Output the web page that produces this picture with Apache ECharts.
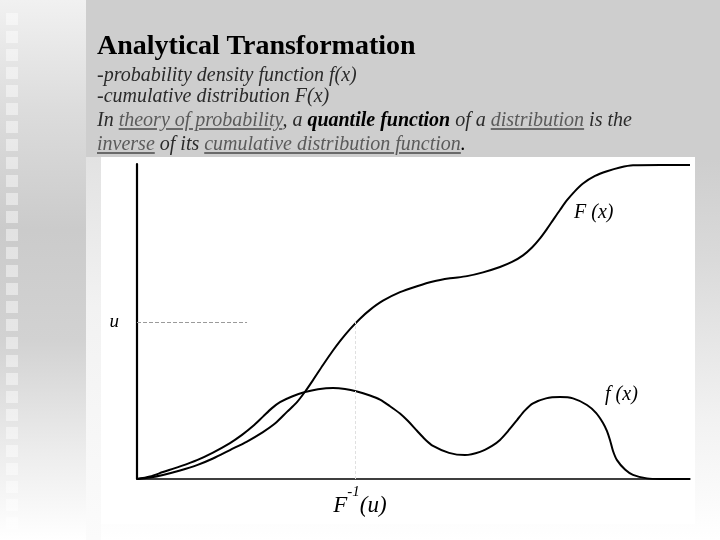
<!DOCTYPE html>
<html>
<head>
<meta charset="utf-8">
<script src="https://cdn.jsdelivr.net/npm/echarts@6/dist/echarts.min.js"></script>
<style>
  html, body { margin:0; padding:0; width:720px; height:540px; overflow:hidden; }
  body {
    position:relative;
    background: linear-gradient(to bottom, #cecece 0px, #cecece 160px, #dadada 260px, #f2f2f2 420px, #ffffff 540px);
    font-family: "Liberation Serif", "Times New Roman", serif;
  }
  #leftcol {
    position:absolute; left:0; top:0; width:86px; height:540px;
    background: linear-gradient(to bottom, #f1f1f1 0px, #dcdcdc 110px, #cbcbcb 230px, #d2d2d2 340px, #ececec 450px, #ffffff 540px);
  }
  #squares {
    position:absolute; left:6px; top:13px; width:12px; height:527px;
    background: repeating-linear-gradient(to bottom, rgba(255,255,255,0.45) 0px, rgba(255,255,255,0.45) 12px, rgba(255,255,255,0) 12px, rgba(255,255,255,0) 18px);
  }
  #strip {
    position:absolute; left:86px; top:157px; width:15px; height:383px;
    background: linear-gradient(to bottom, #e2e2e2 0px, #f2f2f2 150px, #fbfbfb 383px);
  }
  #paper { position:absolute; left:101px; top:157px; width:594px; height:367px; background:#ffffff; }
  #chart { position:absolute; left:0; top:0; width:720px; height:540px; }
  .title { position:absolute; left:97px; top:31px; font-size:28px; line-height:28px; font-weight:bold; color:#000; white-space:nowrap; }
  .line { position:absolute; left:97px; font-size:20px; line-height:23px; font-style:italic; color:#2a2a2a; white-space:nowrap; }
  .lk { color:#5a5a5a; text-decoration:underline; text-decoration-color:#6a6a6a; text-decoration-thickness:2px; text-underline-offset:2px; }
  .q { font-weight:bold; color:#000; }
</style>
</head>
<body>
<div id="leftcol"></div>
<div id="squares"></div>
<div id="strip"></div>
<div id="paper"></div>
<div id="chart"></div>
<div class="title">Analytical Transformation</div>
<div class="line" style="top:63px">-probability density function f(x)</div>
<div class="line" style="top:84px">-cumulative distribution F(x)</div>
<div class="line" style="top:108px">In <span class="lk">theory of probability</span>, a <span class="q">quantile function</span> of a <span class="lk">distribution</span> is the</div>
<div class="line" style="top:132px"><span class="lk">inverse</span> of its <span class="lk">cumulative distribution function</span><span style="color:#000">.</span></div>
<script>
// Cumulative distribution F(x): [x, F]
const cdfPoints = [
  [0, 0], [2.35, 0.005], [4.70, 0.013], [7.78, 0.027], [10.85, 0.044], [13.74, 0.065],
  [16.82, 0.092], [19.89, 0.119], [22.78, 0.149], [24.95, 0.176], [27.12, 0.213], [28.93, 0.244],
  [30.38, 0.277], [31.83, 0.314], [33.63, 0.362], [35.44, 0.408], [36.71, 0.438], [38.52, 0.476],
  [40.33, 0.509], [42.13, 0.537], [44.48, 0.566], [47.56, 0.593], [50.63, 0.612], [53.53, 0.627],
  [56.60, 0.637], [59.67, 0.644], [62.57, 0.656], [65.64, 0.673], [67.81, 0.689], [69.80, 0.710],
  [71.43, 0.735], [72.88, 0.764], [74.14, 0.794], [75.23, 0.822], [76.49, 0.854], [77.76, 0.885],
  [79.20, 0.914], [80.65, 0.938], [82.82, 0.962], [84.99, 0.977], [87.34, 0.989], [89.69, 0.996],
  [94.58, 0.997], [100, 0.997]
];
// Probability density f(x): [x, f]
const pdfPoints = [
  [0, 0], [2.35, 0.008], [4.70, 0.022], [7.78, 0.040], [10.85, 0.060], [13.74, 0.084],
  [16.82, 0.114], [18.99, 0.140], [20.98, 0.168], [22.78, 0.198], [24.41, 0.225], [25.86, 0.244],
  [28.03, 0.262], [30.38, 0.276], [32.73, 0.285], [35.44, 0.289], [37.61, 0.286], [39.78, 0.278],
  [42.13, 0.265], [43.94, 0.252], [45.75, 0.231], [47.56, 0.208], [49.01, 0.184], [50.63, 0.153],
  [52.08, 0.126], [53.53, 0.105], [56.42, 0.083], [59.31, 0.076], [62.03, 0.086], [64.20, 0.105],
  [65.64, 0.124], [67.09, 0.152], [68.72, 0.187], [70.16, 0.218], [71.61, 0.240], [73.96, 0.256],
  [76.49, 0.260], [78.84, 0.256], [81.37, 0.235], [83.00, 0.210], [84.27, 0.178], [84.99, 0.152],
  [85.53, 0.124], [86.08, 0.089], [86.80, 0.060], [88.25, 0.030], [89.69, 0.013], [92.22, 0.002],
  [94.58, 0], [100, 0]
];
const uLevel = 0.498;      // u on the F axis
const uLineEnd = 19.9;     // where the dashed u guide stops
const quantileX = 39.4;    // F^-1(u)
const labelF = { text: 'F (x)', pos: [82.6, 0.846] };
const labelf = { text: 'f (x)', pos: [87.6, 0.267] };

const serif = '"Liberation Serif", "Times New Roman", serif';

const chart = echarts.init(document.getElementById('chart'), null, { renderer: 'canvas' });
chart.setOption({
  animation: false,
  backgroundColor: 'transparent',
  grid: { left: 137, top: 164, width: 553, height: 315, containLabel: false },
  xAxis: {
    type: 'value', min: 0, max: 100,
    axisLine: { show: true, onZero: false, lineStyle: { color: '#000', width: 1.5 } },
    axisTick: { show: false }, axisLabel: { show: false }, splitLine: { show: false }
  },
  yAxis: {
    type: 'value', min: 0, max: 1,
    axisLine: { show: true, onZero: false, lineStyle: { color: '#000', width: 2.2 } },
    axisTick: { show: false }, axisLabel: { show: false }, splitLine: { show: false }
  },
  series: [
    {
      name: 'F(x)', type: 'line', data: cdfPoints, smooth: 0.3, symbol: 'none',
      lineStyle: { color: '#000', width: 2 }, z: 3,
      markLine: {
        silent: true, symbol: ['none', 'none'],
        data: [
          [
            { coord: [0, uLevel], lineStyle: { color: '#9a9a9a', width: 1, type: [4, 2] },
              label: { show: true, position: 'start', formatter: 'u', distance: 18,
                       fontFamily: serif, fontStyle: 'italic', fontSize: 19, color: '#000' } },
            { coord: [uLineEnd, uLevel] }
          ],
          [
            { coord: [quantileX, 0], lineStyle: { color: '#e0e0e0', width: 1, type: [3, 2] },
              label: { show: true, position: 'start', distance: 6, offset: [5, 0],
                       formatter: '{a|F}{b|-1}{a|(u)}',
                       rich: {
                         a: { fontFamily: serif, fontStyle: 'italic', fontSize: 23, color: '#000', verticalAlign: 'bottom', lineHeight: 32 },
                         b: { fontFamily: serif, fontStyle: 'italic', fontSize: 15, color: '#000', verticalAlign: 'top', lineHeight: 32 }
                       } } },
            { coord: [quantileX, uLevel] }
          ]
        ]
      },
      markPoint: {
        silent: true, symbol: 'circle', symbolSize: 0,
        label: { show: true, position: 'inside', fontFamily: serif, fontStyle: 'italic', fontSize: 20, color: '#000' },
        data: [ { coord: labelF.pos, label: { formatter: labelF.text } } ]
      }
    },
    {
      name: 'f(x)', type: 'line', data: pdfPoints, smooth: 0.3, symbol: 'none',
      lineStyle: { color: '#000', width: 2 }, z: 3,
      markPoint: {
        silent: true, symbol: 'circle', symbolSize: 0,
        label: { show: true, position: 'inside', fontFamily: serif, fontStyle: 'italic', fontSize: 20, color: '#000' },
        data: [ { coord: labelf.pos, label: { formatter: labelf.text } } ]
      }
    }
  ]
});
</script>
</body>
</html>
